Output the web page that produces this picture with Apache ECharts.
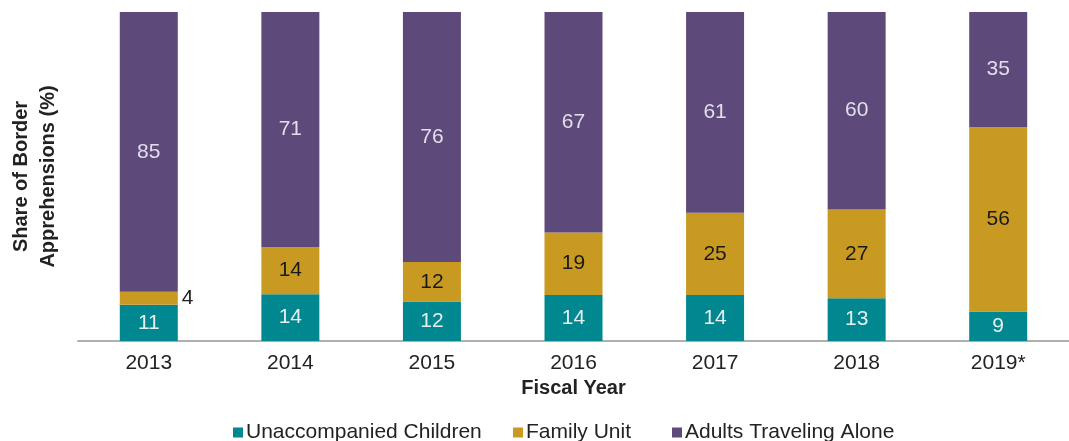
<!DOCTYPE html>
<html>
<head>
<meta charset="utf-8">
<script src="https://cdn.jsdelivr.net/npm/echarts@6/dist/echarts.min.js"></script>
<style>
html,body{margin:0;padding:0;background:#fff;}
#c{width:1069px;height:441px;}
</style>
</head>
<body>
<div id="c"></div>
<script>
const categories = ['2013','2014','2015','2016','2017','2018','2019*'];
// shares (%) as measured from the bars; labels show the rounded values
const unaccompanied = [11,14.2,12,14,14,13,9];
const familyUnit = [4,14.4,12,19,25,27,56];
const adultsAlone = [85,71.4,76,67,61,60,35];
const seriesNames = ['Unaccompanied Children','Family Unit','Adults Traveling Alone'];

const FONT = '"Liberation Sans", Arial, sans-serif';
const chart = echarts.init(document.getElementById('c'));
const fmt = p => String(Math.round(p.value));

function legendAt(name, left) {
  return {
    data: [name], left: left, top: 417,
    itemWidth: 10, itemHeight: 10, itemGap: 0, icon: 'rect',
    textStyle: {fontFamily: FONT, fontSize: 21, color: '#222', padding: [0,0,0,-2]}
  };
}

chart.setOption({
  animation: false,
  textStyle: {fontFamily: FONT},
  grid: {left: 75, top: 12, width: 1008, bottom: 100, containLabel: false},
  legend: [
    legendAt(seriesNames[0], 228),
    legendAt(seriesNames[1], 508),
    legendAt(seriesNames[2], 667)
  ],
  xAxis: {
    type: 'category', data: categories,
    axisTick: {show: false},
    axisLine: {lineStyle: {color: '#b0b0b0', width: 2}},
    axisLabel: {fontSize: 21, color: '#222', margin: 12, fontFamily: FONT},
    name: 'Fiscal Year', nameLocation: 'middle', nameGap: 33,
    nameTextStyle: {fontSize: 20, fontWeight: 'bold', color: '#222', fontFamily: FONT}
  },
  yAxis: {
    type: 'value', min: 0, max: 100,
    axisLine: {show: false}, axisTick: {show: false}, axisLabel: {show: false},
    splitLine: {show: false},
    name: 'Share of Border\nApprehensions (%)', nameLocation: 'middle', nameGap: 16,
    nameTextStyle: {fontSize: 20, fontWeight: 'bold', color: '#222', lineHeight: 27, fontFamily: FONT}
  },
  series: [
    {
      name: seriesNames[0], type: 'bar', stack: 'a', data: unaccompanied, barWidth: 58,
      itemStyle: {color: '#00878F'},
      label: {show: true, position: 'inside', color: '#E6EEF0', fontSize: 21, fontFamily: FONT, formatter: fmt}
    },
    {
      name: seriesNames[1], type: 'bar', stack: 'a', barWidth: 58,
      data: familyUnit.map((v, i) => i === 0
        ? {value: v, label: {position: 'right', distance: 4, color: '#222'}}
        : v),
      itemStyle: {color: '#C99A22'},
      label: {show: true, position: 'inside', color: '#1a1a1a', fontSize: 21, fontFamily: FONT, formatter: fmt}
    },
    {
      name: seriesNames[2], type: 'bar', stack: 'a', data: adultsAlone, barWidth: 58,
      itemStyle: {color: '#5E4A7A'},
      label: {show: true, position: 'inside', color: '#E2DDEA', fontSize: 21, fontFamily: FONT, formatter: fmt}
    }
  ]
});
</script>
</body>
</html>
